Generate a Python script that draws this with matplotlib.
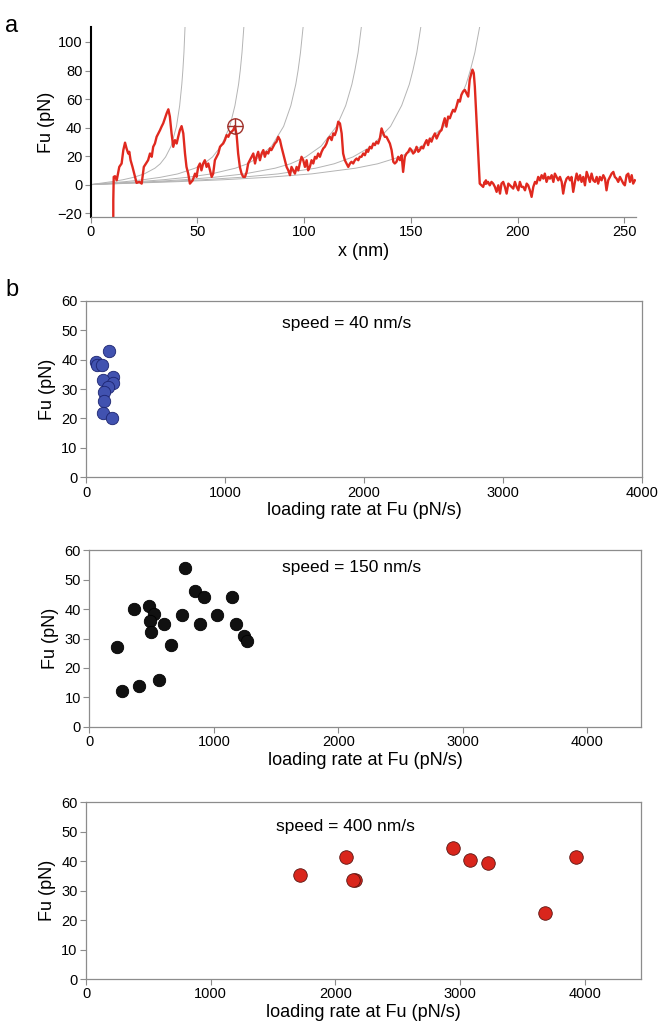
import matplotlib
matplotlib.use('Agg')
import matplotlib.pyplot as plt

plt.rcParams['font.family'] = ['Liberation Sans', 'DejaVu Sans']

# ---- panel a : force trace (x in nm, F in pN) ----
trace_x = [10.6, 10.6, 10.8, 11.4, 12.2, 13.4, 14.5, 15.3, 16.1, 16.8, 17.6, 18.1, 18.7, 19.6, 20.8, 21.5,
           22.8, 23.9, 24.3, 24.9, 25.9, 26.9, 27.8, 28.6, 29.3, 30.1, 30.9, 31.7, 32.5, 33.2, 34.0, 34.8,
           35.6, 36.4, 37.1, 37.9, 38.7, 39.5, 40.3, 41.0, 41.8, 42.6, 43.4, 44.2, 44.9, 45.7, 46.5, 47.8,
           48.9, 49.6, 50.4, 51.2, 51.9, 52.7, 53.5, 54.3, 55.1, 55.9, 56.7, 57.4, 58.2, 59.0, 59.8, 60.6,
           61.3, 62.1, 62.9, 63.7, 64.5, 65.2, 66.0, 66.8, 67.6, 68.4, 69.1, 69.9, 70.7, 71.5, 72.3, 73.1,
           73.8, 74.6, 76.2, 77.0, 77.7, 78.5, 79.3, 80.1, 80.9, 81.6, 82.4, 83.2, 84.0, 84.7, 85.5, 86.3,
           87.1, 87.9, 88.7, 89.4, 90.2, 91.0, 91.8, 92.6, 93.4, 94.1, 94.9, 95.7, 96.5, 97.3, 98.0, 98.8,
           99.6, 100.4, 101.2, 101.9, 102.7, 103.5, 104.3, 105.1, 105.8, 106.6, 107.4, 108.2, 109.0, 109.7,
           110.5, 111.3, 112.1, 112.9, 113.7, 114.4, 115.2, 116.0, 116.8, 117.6, 118.3, 119.1, 119.9, 120.7,
           121.5, 122.2, 123.0, 123.8, 124.6, 125.4, 126.1, 126.9, 127.7, 128.5, 129.3, 130.0, 130.8, 131.6,
           132.4, 133.2, 133.9, 134.7, 135.5, 136.3, 137.1, 137.8, 138.6, 139.4, 140.2, 141.0, 141.8, 142.5,
           143.3, 144.1, 144.9, 145.7, 146.4, 147.2, 148.0, 148.8, 149.6, 150.3, 151.1, 151.9, 152.7, 153.5,
           154.2, 155.0, 155.8, 156.6, 157.4, 158.1, 158.9, 159.7, 160.5, 161.3, 162.1, 162.8, 163.6, 164.4,
           165.2, 165.9, 166.7, 167.5, 168.3, 169.1, 169.8, 170.6, 171.4, 172.2, 173.0, 173.7, 174.5, 175.3,
           176.1, 176.9, 177.6, 178.4, 178.9, 179.5, 180.0, 180.8, 181.6, 182.3, 183.9, 184.6, 184.9, 185.2,
           185.5, 186.2, 187.0, 187.8, 188.6, 189.4, 190.2, 191.0, 191.8, 192.5, 193.3, 194.1, 194.9, 195.7,
           196.5, 197.2, 198.0, 198.8, 199.6, 200.4, 201.1, 201.9, 202.7, 203.5, 204.3, 205.0, 205.8, 206.6,
           207.4, 208.2, 208.9, 209.7, 210.5, 211.3, 212.1, 212.8, 213.6, 214.4, 215.2, 216.0, 216.8, 217.5,
           218.3, 219.1, 219.9, 220.7, 221.4, 222.2, 223.0, 223.8, 224.6, 225.3, 226.1, 226.9, 227.7, 228.5,
           229.3, 230.0, 230.8, 231.6, 232.4, 233.2, 233.9, 234.7, 235.5, 236.3, 237.1, 237.8, 238.6, 239.4,
           240.2, 241.0, 241.7, 242.5, 243.3, 244.1, 244.9, 245.6, 246.4, 247.2, 248.0, 248.8, 249.6, 250.3,
           251.1, 251.9, 252.7, 253.5, 254.2, 255.0]
trace_f = [-30.0, -11.0, 5.4, 5.9, 3.0, 12.4, 14.8, 24.2, 29.4, 25.4, 21.8, 23.0, 17.1, 12.4, 5.4, 1.2,
           1.9, 0.7, 5.4, 12.4, 14.8, 17.1, 21.8, 19.5, 26.5, 28.8, 33.5, 35.9, 38.2, 40.6, 43.0, 46.5,
           50.0, 52.8, 47.7, 35.9, 26.5, 31.2, 28.8, 33.5, 38.2, 41.0, 35.9, 21.8, 12.4, 7.7, 0.7, 3.0,
           7.7, 5.4, 12.4, 14.8, 10.0, 14.8, 17.1, 12.4, 14.8, 10.0, 5.4, 7.7, 17.1, 19.5, 21.8, 26.5,
           27.7, 28.8, 31.2, 34.7, 33.5, 35.9, 37.1, 38.2, 41.0, 34.7, 21.8, 12.4, 7.7, 5.4, 5.4, 8.9,
           14.8, 17.1, 21.8, 14.8, 19.5, 23.0, 17.1, 21.8, 24.2, 19.5, 23.0, 21.8, 25.4, 24.2, 26.5, 28.8,
           30.1, 33.5, 31.2, 26.5, 21.8, 17.1, 12.4, 10.0, 6.6, 12.4, 10.0, 7.7, 12.4, 10.0, 14.8, 19.5,
           17.1, 12.4, 17.1, 10.0, 12.4, 17.1, 14.8, 19.5, 18.3, 21.8, 19.5, 23.0, 25.4, 26.5,
           28.8, 32.3, 33.5, 31.2, 35.9, 34.7, 38.2, 44.1, 42.9, 35.9, 21.8, 17.1, 14.8, 12.4,
           14.8, 16.0, 14.8, 17.1, 18.3, 17.1, 19.5, 19.5, 21.8, 20.6, 24.2, 23.0, 26.5, 25.4,
           28.8, 27.7, 30.1, 28.8, 32.3, 39.4, 35.9, 33.5, 33.5, 31.2, 28.8, 24.2, 16.0, 14.8,
           16.0, 19.5, 17.1, 20.6, 8.9, 19.5, 21.8, 23.0, 25.4, 24.2, 21.8, 23.0, 26.5, 23.0,
           24.2, 26.5, 25.4, 28.8, 31.2, 27.7, 32.3, 30.1, 33.5, 35.9, 32.3, 34.7, 37.1, 38.2,
           42.9, 46.5, 40.6, 47.7, 46.5, 50.0, 52.4, 51.2, 54.7, 59.4, 58.2, 62.9, 65.3, 66.4,
           64.1, 61.7, 73.5, 78.2, 80.6, 78.2, 68.8, 45.3, 21.8, 0.7, -1.6, 1.9, 0.7, 3.0,
           0.7, 1.9, -0.5, 1.9, 0.7, -1.6, -5.1, -0.5, -6.3, 0.7, 1.9, -1.6, -6.3, 0.7,
           -0.5, -1.6, -2.8, 1.9, -1.6, -4.0, 1.9, -1.6, -1.6, -4.0, 0.7, -0.5, -4.0, -8.6,
           -1.6, 1.9, 0.7, 5.4, 3.0, 6.6, 4.2, 7.7, 1.9, 5.4, 4.2, 6.6, 1.9, 7.7,
           5.4, 3.0, 5.4, 1.9, -6.3, 0.7, 4.2, 5.4, 3.0, 5.4, -5.1, 1.9, 7.7, 3.0,
           6.6, 1.9, 5.4, -0.5, 8.9, 5.4, 1.9, 7.7, 3.0, 1.9, 5.4, 0.7, 5.4, 3.0,
           6.6, 4.2, -4.0, 3.0, 5.4, 7.7, 8.9, 5.4, 4.2, 1.9, 5.4, 3.0, 0.7, -0.5,
           6.6, 7.7, 1.9, 6.6, 0.7, 3.0]

# WLC fits
wlc_f = [0, 2.1, 3.4, 5.1, 7.5, 11.5, 14.6, 19.4, 27.0, 40.8, 55.4, 70.3, 80.2, 92.5, 117.2]
wlc_x1 = [0, 10.0, 15.1, 20.1, 25.1, 30.1, 32.6, 35.1, 37.7, 40.2, 41.7, 42.7, 43.2, 43.7, 44.4]
wlc_x2 = [0, 16.3, 24.5, 32.6, 40.8, 48.9, 53.0, 57.1, 61.1, 65.2, 67.6, 69.3, 70.1, 70.9, 72.1]
wlc_x3 = [0, 22.6, 33.9, 45.2, 56.5, 67.8, 73.5, 79.1, 84.8, 90.4, 93.8, 96.1, 97.2, 98.3, 100.0]
wlc_x4 = [0, 28.8, 43.2, 57.6, 72.0, 86.4, 93.6, 100.8, 108.0, 115.2, 119.5, 122.4, 123.8, 125.3, 127.4]
wlc_x5 = [0, 35.1, 52.7, 70.2, 87.8, 105.4, 114.1, 122.9, 131.7, 140.5, 145.7, 149.3, 151.0, 152.8, 155.4]
wlc_x6 = [0, 41.4, 62.1, 82.8, 103.5, 124.1, 134.5, 144.8, 155.2, 165.5, 171.7, 175.9, 177.9, 180.0, 183.1]

marked_x = [67.6]
marked_f = [41.0]

# ---- panel b : Fu vs loading rate ----
rate_40 = [168, 72, 80, 115, 192, 120, 192, 160, 129, 132, 120, 185]
fu_40 = [43.0, 39.1, 38.1, 38.1, 34.2, 33.1, 31.9, 30.6, 29.1, 25.9, 22.0, 20.0]

rate_150 = [767, 850, 925, 1147, 481, 356, 519, 743, 1027, 489, 596, 893, 1182, 497, 1246, 1267,
            655, 222, 556, 398, 265]
fu_150 = [54.1, 46.2, 44.1, 44.1, 41.2, 40.0, 38.2, 38.1, 38.1, 36.1, 35.1, 35.1, 35.1, 32.1, 31.0, 29.0,
          27.9, 27.0, 16.0, 14.0, 12.0]

rate_400 = [1715, 2087, 2157, 2142, 2941, 3079, 3222, 3680, 3927]
fu_400 = [35.3, 41.4, 33.4, 33.4, 44.3, 40.3, 39.4, 22.4, 41.5]

fig = plt.figure(figsize=(6.58, 10.23), dpi=100)

grey = '#8c8c8c'

# panel a
ax = fig.add_axes([0.1378, 0.7879, 0.8287, 0.1857])
for wx in [wlc_x1, wlc_x2, wlc_x3, wlc_x4, wlc_x5, wlc_x6]:
    ax.plot(wx, wlc_f, color='#b4b4b4', lw=0.7)
ax.plot(trace_x, trace_f, color='#e0291f', lw=1.7)
ax.plot(marked_x, marked_f, marker='o', ms=11, mfc='none', mec='#a0302a', mew=1.0, ls='none')
ax.plot(marked_x, marked_f, marker='+', ms=11, mec='#a0302a', mew=1.0, ls='none')
ax.set_xlim(0, 255.5)
ax.set_ylim(-22.7, 110.5)
ax.set_xticks([0, 50, 100, 150, 200, 250])
ax.set_yticks([-20, 0, 20, 40, 60, 80, 100])
ax.spines['top'].set_visible(False)
ax.spines['right'].set_visible(False)
ax.spines['left'].set_linewidth(1.5)
ax.spines['left'].set_color('black')
ax.spines['bottom'].set_color(grey)
ax.spines['bottom'].set_linewidth(0.9)
ax.tick_params(direction='out', length=4, width=0.8, color=grey, labelsize=10.5, pad=2)
ax.set_xlabel('x (nm)', fontsize=13, labelpad=3)
ax.set_ylabel('Fu (pN)', fontsize=13, labelpad=2)
fig.text(0.008, 0.985, 'a', fontsize=17, va='top')
fig.text(0.008, 0.727, 'b', fontsize=17, va='top')


def scatter_panel(rect, rates, forces, fc, ec, size, xmax, label, tx, ty):
    axb = fig.add_axes(rect)
    axb.scatter(rates, forces, s=size, c=fc, edgecolors=ec, linewidths=0.6, zorder=3)
    axb.set_xlim(0, xmax)
    axb.set_ylim(0, 60)
    axb.set_xticks([0, 1000, 2000, 3000, 4000])
    axb.set_yticks([0, 10, 20, 30, 40, 50, 60])
    for s in axb.spines.values():
        s.set_color(grey)
        s.set_linewidth(0.9)
    axb.tick_params(direction='out', length=4, width=0.8, color=grey, labelsize=10.5, pad=2)
    axb.set_xlabel('loading rate at Fu (pN/s)', fontsize=13, labelpad=2)
    axb.set_ylabel('Fu (pN)', fontsize=13, labelpad=4)
    axb.text(tx, ty, label, transform=axb.transAxes, fontsize=12.5, ha='center', va='center')
    return axb


scatter_panel([0.1307, 0.5334, 0.845, 0.1726], rate_40, fu_40, '#4152b0', '#1c2470', 80, 4000,
              'speed = 40 nm/s', 0.468, 0.874)
scatter_panel([0.1357, 0.2896, 0.8384, 0.1724], rate_150, fu_150, '#111111', '#000000', 80, 4430,
              'speed = 150 nm/s', 0.475, 0.905)
scatter_panel([0.1307, 0.0430, 0.8435, 0.1730], rate_400, fu_400, '#d9261c', '#5a1410', 95, 4450,
              'speed = 400 nm/s', 0.468, 0.859)

fig.savefig('out.png', dpi=100)
